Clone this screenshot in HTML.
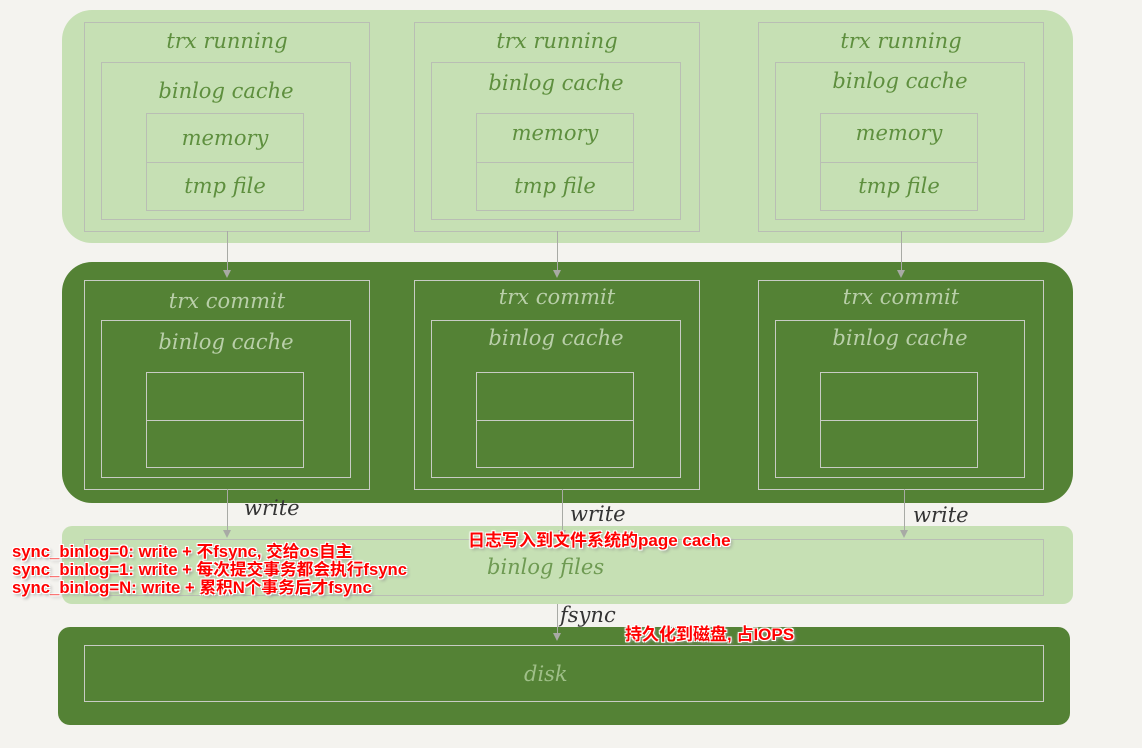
<!DOCTYPE html>
<html><head><meta charset="utf-8"><style>
body{margin:0;width:1142px;height:748px;background:#f4f3ef;position:relative;overflow:hidden;font-family:"DejaVu Sans","Liberation Sans",sans-serif}
div{position:absolute;box-sizing:border-box}
.lg{background:#c6e0b4}
.dg{background:#548235}
.b{border:1.5px solid #b9beb4}
.db{border:1.5px solid #c8ccc4}
.t{font-family:"DejaVu Serif","Liberation Serif",serif;font-style:italic;font-size:21px;color:#5e8f3e;text-align:center;width:100%}
.td{font-family:"DejaVu Serif","Liberation Serif",serif;font-style:italic;font-size:21px;color:#b9cfa9;text-align:center;width:100%}
.ln{width:1px;background:#a8aaa5}
.ar{width:0;height:0;border-left:4px solid transparent;border-right:4px solid transparent;border-top:8px solid #a8aaa5}
.w{font-family:"DejaVu Serif","Liberation Serif",serif;font-style:italic;font-size:21px;color:#333}
.r{color:#f00;font-weight:bold;font-size:17px;font-family:"Liberation Sans","Noto Sans CJK SC",sans-serif;white-space:nowrap;text-shadow:-1px -1px 0 #fff,1px -1px 0 #fff,-1px 1px 0 #fff,1px 1px 0 #fff,0 0 3px #fff,2px 2px 3px #888;line-height:18px}
</style></head><body>
<div class="lg" style="left:62px;top:10px;width:1011px;height:233px;border-radius:30px"></div>
<div class="dg" style="left:62px;top:262px;width:1011px;height:241px;border-radius:30px"></div>
<div class="lg" style="left:62px;top:526px;width:1011px;height:78px;border-radius:10px"></div>
<div class="dg" style="left:58px;top:627px;width:1012px;height:98px;border-radius:12px"></div>

<div class="b" style="left:84px;top:22px;width:286px;height:210px"><div class="t" style="top:6px">trx running</div></div>
<div class="b" style="left:101px;top:62px;width:250px;height:158px"><div class="t" style="top:16px">binlog cache</div></div>
<div class="b" style="left:146px;top:113px;width:158px;height:98px"><div class="t" style="top:12px">memory</div><div class="b" style="left:0;top:48px;width:100%;height:0;border-width:1px 0 0 0"></div><div class="t" style="top:60px">tmp file</div></div>

<div class="b" style="left:414px;top:22px;width:286px;height:210px"><div class="t" style="top:6px">trx running</div></div>
<div class="b" style="left:431px;top:62px;width:250px;height:158px"><div class="t" style="top:8px">binlog cache</div></div>
<div class="b" style="left:476px;top:113px;width:158px;height:98px"><div class="t" style="top:7px">memory</div><div class="b" style="left:0;top:48px;width:100%;height:0;border-width:1px 0 0 0"></div><div class="t" style="top:60px">tmp file</div></div>

<div class="b" style="left:758px;top:22px;width:286px;height:210px"><div class="t" style="top:6px">trx running</div></div>
<div class="b" style="left:775px;top:62px;width:250px;height:158px"><div class="t" style="top:6px">binlog cache</div></div>
<div class="b" style="left:820px;top:113px;width:158px;height:98px"><div class="t" style="top:7px">memory</div><div class="b" style="left:0;top:48px;width:100%;height:0;border-width:1px 0 0 0"></div><div class="t" style="top:60px">tmp file</div></div>

<div class="ln" style="left:227px;top:231px;height:40px"></div><div class="ar" style="left:223px;top:270px"></div>
<div class="ln" style="left:557px;top:231px;height:40px"></div><div class="ar" style="left:553px;top:270px"></div>
<div class="ln" style="left:901px;top:231px;height:40px"></div><div class="ar" style="left:897px;top:270px"></div>

<div class="db" style="left:84px;top:280px;width:286px;height:210px"><div class="td" style="top:8px">trx commit</div></div>
<div class="db" style="left:101px;top:320px;width:250px;height:158px"><div class="td" style="top:9px">binlog cache</div></div>
<div class="db" style="left:146px;top:372px;width:158px;height:96px"><div class="db" style="left:0;top:47px;width:100%;height:0;border-width:1px 0 0 0"></div></div>

<div class="db" style="left:414px;top:280px;width:286px;height:210px"><div class="td" style="top:4px">trx commit</div></div>
<div class="db" style="left:431px;top:320px;width:250px;height:158px"><div class="td" style="top:5px">binlog cache</div></div>
<div class="db" style="left:476px;top:372px;width:158px;height:96px"><div class="db" style="left:0;top:47px;width:100%;height:0;border-width:1px 0 0 0"></div></div>

<div class="db" style="left:758px;top:280px;width:286px;height:210px"><div class="td" style="top:4px">trx commit</div></div>
<div class="db" style="left:775px;top:320px;width:250px;height:158px"><div class="td" style="top:5px">binlog cache</div></div>
<div class="db" style="left:820px;top:372px;width:158px;height:96px"><div class="db" style="left:0;top:47px;width:100%;height:0;border-width:1px 0 0 0"></div></div>

<div class="ln" style="left:227px;top:489px;height:42px"></div><div class="ar" style="left:223px;top:530px"></div>
<div class="ln" style="left:562px;top:489px;height:42px"></div><div class="ar" style="left:558px;top:530px"></div>
<div class="ln" style="left:904px;top:489px;height:42px"></div><div class="ar" style="left:900px;top:530px"></div>
<div class="w" style="left:244px;top:496px">write</div>
<div class="w" style="left:570px;top:502px">write</div>
<div class="w" style="left:913px;top:503px">write</div>

<div class="b" style="left:84px;top:539px;width:960px;height:57px"></div>
<div class="t" style="left:487px;top:555px;width:auto;color:#6e9a52">binlog files</div>

<div class="ln" style="left:557px;top:604px;height:30px"></div><div class="ar" style="left:553px;top:633px"></div>
<div class="w" style="left:560px;top:603px">fsync</div>

<div class="db" style="left:84px;top:645px;width:960px;height:57px"></div>
<div class="td" style="left:524px;top:662px;width:auto;color:#9fbf88">disk</div>

<div class="r" style="left:12px;top:543px;font-size:16.7px">sync_binlog=0: write + 不fsync, 交给os自主<br>sync_binlog=1: write + 每次提交事务都会执行fsync<br>sync_binlog=N: write + 累积N个事务后才fsync</div>
<div class="r" style="left:468px;top:532px">日志写入到文件系统的page cache</div>
<div class="r" style="left:625px;top:626px">持久化到磁盘, 占IOPS</div>
</body></html>
